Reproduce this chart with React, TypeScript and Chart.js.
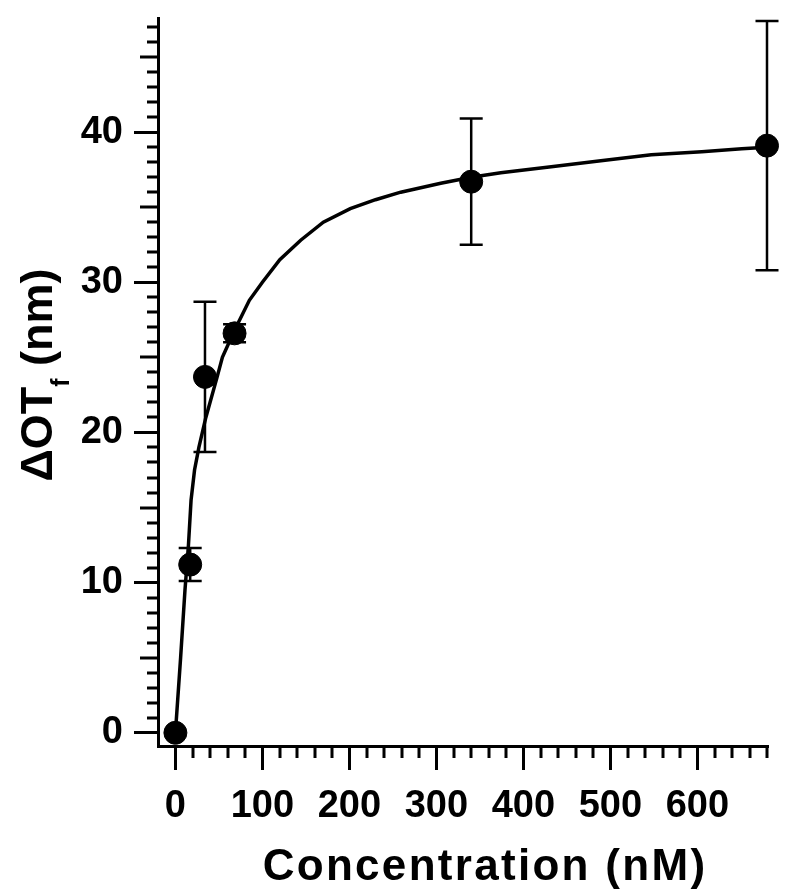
import React, { useEffect, useRef } from "react";
import { Chart, registerables } from "chart.js";

Chart.register(...registerables);

// ---- data ----
const concentrations = [0, 17, 34, 68, 340, 680];
const deltaOT = [0, 11.2, 23.7, 26.6, 36.7, 39.1];
const deltaErr = [0, 1.1, 5.0, 0.6, 4.2, 8.3];

const fitX = [0, 6, 11, 15, 18, 22, 27, 35, 48, 54, 68, 85, 100, 120, 144, 170, 201, 230, 259, 305, 340, 374, 432, 489, 547, 605, 651, 680];
const fitY = [0, 5, 9.5, 12.5, 15.5, 17.5, 19, 21, 23.7, 25, 26.8, 28.8, 30, 31.5, 32.8, 34, 34.9, 35.5, 36, 36.6, 37.0, 37.3, 37.7, 38.1, 38.5, 38.7, 38.9, 39.0];

const xMajorTicks = [0, 100, 200, 300, 400, 500, 600];
const yMajorTicks = [0, 10, 20, 30, 40];
const xMinorTicks = [20, 40, 60, 80, 120, 140, 160, 180, 220, 240, 260, 280, 320, 340, 360, 380, 420, 440, 460, 480, 520, 540, 560, 580, 620, 640, 660, 680];
const yMinorTicks = [1, 2, 3, 4, 6, 7, 8, 9, 11, 12, 13, 14, 16, 17, 18, 19, 21, 22, 23, 24, 26, 27, 28, 29, 31, 32, 33, 34, 36, 37, 38, 39, 41, 42, 43, 44, 46, 47];
const yMidTicks = [5, 15, 25, 35, 45];

const xTitle = "Concentration (nM)";
const yTitleMain = "ΔOT";
const yTitleSub = "f";
const yTitleTail = " (nm)";

const FONT = '"Liberation Sans", Arial, Helvetica, sans-serif';

const extrasPlugin = {
  id: "extras",
  afterDatasetsDraw(chart: any) {
    const ctx = chart.ctx;
    const xs = chart.scales.x;
    const ys = chart.scales.y;
    ctx.save();
    ctx.strokeStyle = "#000";
    ctx.lineWidth = 2.5;
    const cap = 11.5;
    concentrations.forEach((c, i) => {
      const e = deltaErr[i];
      if (!e) return;
      const px = xs.getPixelForValue(c);
      const top = ys.getPixelForValue(deltaOT[i] + e);
      const bot = ys.getPixelForValue(deltaOT[i] - e);
      ctx.beginPath();
      ctx.moveTo(px, top);
      ctx.lineTo(px, bot);
      ctx.moveTo(px - cap, top);
      ctx.lineTo(px + cap, top);
      ctx.moveTo(px - cap, bot);
      ctx.lineTo(px + cap, bot);
      ctx.stroke();
    });
    ctx.restore();
  },
  afterDraw(chart: any) {
    const ctx = chart.ctx;
    const xs = chart.scales.x;
    const ys = chart.scales.y;
    const area = chart.chartArea;
    ctx.save();
    ctx.strokeStyle = "#000";
    ctx.lineWidth = 3;
    ctx.beginPath();
    xMinorTicks.forEach((v) => {
      const px = Math.round(xs.getPixelForValue(v));
      ctx.moveTo(px, area.bottom);
      ctx.lineTo(px, area.bottom + 12);
    });
    yMinorTicks.forEach((v) => {
      const py = Math.round(ys.getPixelForValue(v));
      ctx.moveTo(area.left, py);
      ctx.lineTo(area.left - 11, py);
    });
    yMidTicks.forEach((v) => {
      const py = Math.round(ys.getPixelForValue(v));
      ctx.moveTo(area.left, py);
      ctx.lineTo(area.left - 18, py);
    });
    ctx.stroke();

    // x title
    ctx.fillStyle = "#000";
    ctx.font = `bold 44px ${FONT}`;
    try { (ctx as any).letterSpacing = "2.3px"; } catch (e) {}
    ctx.textAlign = "center";
    ctx.textBaseline = "middle";
    ctx.fillText(xTitle, 485, 868);
    try { (ctx as any).letterSpacing = "0px"; } catch (e) {}

    // y title (rotated, with subscript)
    ctx.translate(52, 375);
    ctx.rotate(-Math.PI / 2);
    ctx.textAlign = "left";
    ctx.textBaseline = "alphabetic";
    const mainFont = `bold 45px ${FONT}`;
    const subFont = `bold 25px ${FONT}`;
    ctx.font = mainFont;
    const w1 = ctx.measureText(yTitleMain).width;
    const w3 = ctx.measureText(yTitleTail).width;
    ctx.font = subFont;
    const w2 = ctx.measureText(yTitleSub).width;
    const total = w1 + w2 + w3;
    let x0 = -total / 2;
    ctx.font = mainFont;
    ctx.fillText(yTitleMain, x0, 0);
    x0 += w1;
    ctx.font = subFont;
    ctx.fillText(yTitleSub, x0, 17);
    x0 += w2;
    ctx.font = mainFont;
    ctx.fillText(yTitleTail, x0, 0);
    ctx.restore();
  },
};

export default function App() {
  const canvasRef = useRef<HTMLCanvasElement | null>(null);

  useEffect(() => {
    const canvas = canvasRef.current;
    if (!canvas) return;
    const tickFont = { family: FONT, size: 38, weight: "bold" as const };
    const chart = new Chart(canvas, {
      type: "scatter",
      data: {
        datasets: [
          {
            label: "fit",
            data: fitX.map((x, i) => ({ x, y: fitY[i] })),
            showLine: true,
            borderColor: "#000",
            borderWidth: 3.5,
            pointRadius: 0,
            tension: 0,
            clip: false as any,
          },
          {
            label: "data",
            data: concentrations.map((x, i) => ({ x, y: deltaOT[i] })),
            showLine: false,
            backgroundColor: "#000",
            borderColor: "#000",
            pointRadius: 11.5,
            pointHoverRadius: 11.5,
            clip: false as any,
          },
        ],
      },
      options: {
        animation: false,
        responsive: true,
        maintainAspectRatio: false,
        devicePixelRatio: 1,
        layout: { padding: { top: 18, right: 33, left: 0, bottom: 0 } },
        plugins: {
          legend: { display: false },
          tooltip: { enabled: false },
          title: { display: false },
        },
        events: [],
        scales: {
          x: {
            type: "linear",
            position: "bottom",
            min: -20,
            max: 680,
            afterBuildTicks: (s: any) => {
              s.ticks = xMajorTicks.map((v) => ({ value: v }));
            },
            afterFit: (s: any) => {
              s.height = 148;
              s.paddingLeft = 0;
              s.paddingRight = 0;
            },
            grid: {
              display: true,
              drawOnChartArea: false,
              drawTicks: true,
              tickLength: 24,
              lineWidth: 3,
              color: "#000",
            },
            border: { display: true, width: 3, color: "#000" },
            ticks: {
              font: tickFont,
              color: "#000",
              padding: 14,
              maxRotation: 0,
              autoSkip: false,
            },
          },
          y: {
            type: "linear",
            position: "left",
            min: -0.88,
            max: 47.6,
            afterBuildTicks: (s: any) => {
              s.ticks = yMajorTicks.map((v) => ({ value: v }));
            },
            afterFit: (s: any) => {
              s.width = 158;
              s.paddingTop = 0;
              s.paddingBottom = 0;
            },
            grid: {
              display: true,
              drawOnChartArea: false,
              drawTicks: true,
              tickLength: 24,
              lineWidth: 3,
              color: "#000",
            },
            border: { display: true, width: 3, color: "#000" },
            ticks: {
              font: tickFont,
              color: "#000",
              padding: 11,
              autoSkip: false,
            },
          },
        },
      },
      plugins: [extrasPlugin],
    });
    return () => chart.destroy();
  }, []);

  return (
    <div style={{ position: "fixed", left: 0, top: 0, width: "800px", height: "894px", background: "#fff" }}>
      <canvas ref={canvasRef} />
    </div>
  );
}
